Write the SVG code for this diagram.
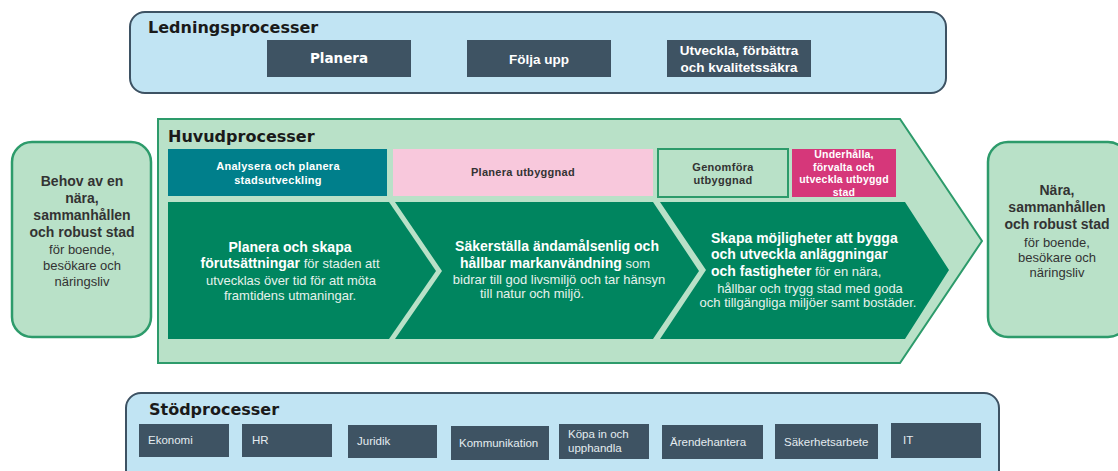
<svg xmlns="http://www.w3.org/2000/svg" width="1118" height="471" viewBox="0 0 1118 471">
<style>
.title{font-family:"DejaVu Sans",sans-serif;font-weight:bold;font-size:16px;fill:#1a1a1a}
.cont{fill:#c1e4f3;stroke:#3d5263;stroke-width:2}
.dbox{fill:#3e5363}
.tb{font-family:"Liberation Sans",Arial,sans-serif;font-weight:bold;font-size:13.5px;fill:#ffffff;text-anchor:middle}
.sb{font-family:"Liberation Sans",Arial,sans-serif;font-size:11.5px;fill:#e4ecf0}
.node{fill:#b9e1c8;stroke:#2d9b6b;stroke-width:2.5}
.nt{font-family:"Liberation Sans",Arial,sans-serif;font-size:13px;fill:#333333;text-anchor:middle}
.b{font-weight:bold}
.chev{fill:#00855f}
.ct{font-family:"Liberation Sans",Arial,sans-serif;font-size:13px;fill:#e6f2ec}
.cb{font-weight:bold;font-size:14px;fill:#ffffff}
.hb{font-family:"Liberation Sans",Arial,sans-serif;font-weight:bold;font-size:11px;letter-spacing:0.3px;text-anchor:middle}
</style>

<g id="ledningsprocesser">
<rect class="cont" x="130" y="12" width="816" height="81" rx="15"/>
<text class="title" x="148" y="33">Ledningsprocesser</text>
<rect class="dbox" x="267" y="40" width="144" height="37"/>
<text class="tb" x="339" y="63" style="font-family:'DejaVu Sans',sans-serif;font-size:13.5px">Planera</text>
<rect class="dbox" x="467" y="40" width="144" height="37"/>
<text class="tb" x="539" y="64">Följa upp</text>
<rect class="dbox" x="667" y="40" width="144" height="37"/>
<text class="tb" x="739" y="55">Utveckla, förbättra</text>
<text class="tb" x="739" y="72">och kvalitetssäkra</text>
</g>

<g id="behov">
<rect class="node" x="12" y="142" width="139" height="195" rx="20"/>
<text class="nt"><tspan class="b" x="82" y="186" style="font-size:14px">Behov av en</tspan><tspan class="b" x="82" y="203" style="font-size:14px">nära,</tspan><tspan class="b" x="82" y="220" style="font-size:14px">sammanhållen</tspan><tspan class="b" x="82" y="237" style="font-size:14px">och robust stad</tspan><tspan x="82" y="254">för boende,</tspan><tspan x="82" y="270">besökare och</tspan><tspan x="82" y="286">näringsliv</tspan></text>
</g>

<g id="huvudprocesser">
<polygon points="158,119 900,119 982,241 900,363 158,363" fill="#b9e1c8" stroke="#2d9b6b" stroke-width="2"/>
<text class="title" x="168" y="142">Huvudprocesser</text>
</g>

<g id="analysera">
<rect x="168" y="149" width="219" height="47" fill="#007f8b"/>
<text class="hb" x="278" y="170" fill="#ffffff">Analysera och planera</text>
<text class="hb" x="278" y="184" fill="#ffffff">stadsutveckling</text>
</g>

<g id="planera-utbyggnad">
<rect x="393" y="149" width="260" height="47" fill="#f8c8dc"/>
<text class="hb" x="523" y="176" fill="#333333">Planera utbyggnad</text>
</g>

<g id="genomfora">
<rect x="658" y="149" width="130" height="48" fill="#b9e1c8" stroke="#2d9b6b" stroke-width="2"/>
<text class="hb" x="723" y="171" fill="#333333">Genomföra</text>
<text class="hb" x="723" y="184" fill="#333333">utbyggnad</text>
</g>

<g id="underhalla">
<rect x="792" y="149" width="104" height="48" fill="#d6377a"/>
<text class="hb" x="844" y="158" fill="#ffffff" style="font-size:10.5px;letter-spacing:0.2px">Underhålla,</text>
<text class="hb" x="844" y="171" fill="#ffffff" style="font-size:10.5px;letter-spacing:0.2px">förvalta och</text>
<text class="hb" x="844" y="183" fill="#ffffff" style="font-size:10.5px;letter-spacing:0.2px">utveckla utbyggd</text>
<text class="hb" x="844" y="196" fill="#ffffff" style="font-size:10.5px;letter-spacing:0.2px">stad</text>
</g>

<g id="chevron-planera">
<polygon class="chev" points="168,202 389,202 436,271 389,339 168,339"/>
<text class="ct" text-anchor="middle"><tspan class="cb" x="290" y="252">Planera och skapa</tspan><tspan x="290" y="268"><tspan class="cb">förutsättningar</tspan> för staden att</tspan><tspan x="291" y="285">utvecklas över tid för att möta</tspan><tspan x="290" y="300">framtidens utmaningar.</tspan></text>
</g>

<g id="chevron-sakerstalla">
<polygon class="chev" points="395,202 653,202 699,271 653,339 395,339 442,271"/>
<text class="ct" text-anchor="middle"><tspan class="cb" x="557" y="251">Säkerställa ändamålsenlig och</tspan><tspan x="555" y="268"><tspan class="cb">hållbar markanvändning</tspan> som</tspan><tspan x="559" y="284">bidrar till god livsmiljö och tar hänsyn</tspan></text>
<text class="ct" x="480" y="298">till natur och miljö.</text>
</g>

<g id="chevron-skapa">
<polygon class="chev" points="660,202 905,202 949,270 905,339 660,339 706,270"/>
<text class="ct"><tspan class="cb" x="711" y="243">Skapa möjligheter att bygga</tspan><tspan class="cb" x="711" y="259">och utveckla anläggningar</tspan><tspan x="711" y="276"><tspan class="cb">och fastigheter</tspan> för en nära,</tspan></text>
<text class="ct" text-anchor="middle"><tspan x="810" y="293">hållbar och trygg stad med goda</tspan><tspan x="808" y="307">och tillgängliga miljöer samt bostäder.</tspan></text>
</g>

<g id="nara">
<rect class="node" x="988" y="142" width="140" height="195" rx="20"/>
<text class="nt"><tspan class="b" x="1057" y="195" style="font-size:14px">Nära,</tspan><tspan class="b" x="1057" y="212" style="font-size:14px">sammanhållen</tspan><tspan class="b" x="1057" y="229" style="font-size:14px">och robust stad</tspan><tspan x="1057" y="247">för boende,</tspan><tspan x="1057" y="262">besökare och</tspan><tspan x="1057" y="277">näringsliv</tspan></text>
</g>

<g id="stodprocesser">
<rect class="cont" x="126" y="393" width="873" height="100" rx="15"/>
<text class="title" x="149" y="415">Stödprocesser</text>
<rect class="dbox" x="139" y="424" width="90" height="33"/>
<text class="sb" x="148" y="444">Ekonomi</text>
<rect class="dbox" x="242" y="424" width="90" height="33"/>
<text class="sb" x="252" y="444">HR</text>
<rect class="dbox" x="348" y="425" width="89" height="33"/>
<text class="sb" x="357" y="445">Juridik</text>
<rect class="dbox" x="451" y="426" width="98" height="34"/>
<text class="sb" x="459" y="447">Kommunikation</text>
<rect class="dbox" x="559" y="424" width="90" height="35"/>
<text class="sb" x="568" y="438">Köpa in och</text>
<text class="sb" x="568" y="452">upphandla</text>
<rect class="dbox" x="662" y="425" width="101" height="34"/>
<text class="sb" x="670" y="446">Ärendehantera</text>
<rect class="dbox" x="775" y="424" width="103" height="35"/>
<text class="sb" x="784" y="446">Säkerhetsarbete</text>
<rect class="dbox" x="891" y="423" width="90" height="35"/>
<text class="sb" x="903" y="444">IT</text>
</g>

<g id="connectors"/>
</svg>
